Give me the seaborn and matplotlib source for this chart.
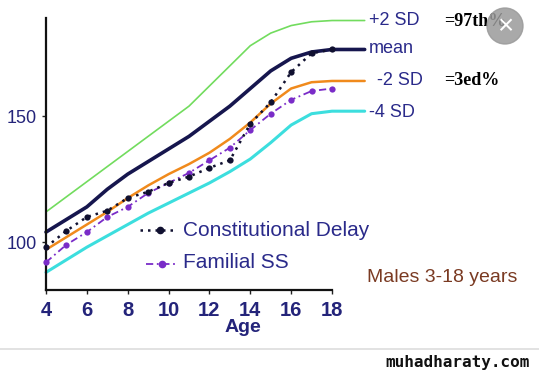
import numpy as np
import pandas as pd
import seaborn as sns
import matplotlib
matplotlib.use("Agg")
import matplotlib.pyplot as plt
from matplotlib.patches import Ellipse

# reference curves (height cm by age)
ages_ref = [4, 5, 6, 7, 8, 9, 10, 11, 12, 13, 14, 15, 16, 17, 18, 19.6]
plus2sd = [112, 118, 124, 130, 136, 142, 148, 154, 162, 170, 178, 183, 186, 187.5, 188, 188]
mean_sd = [104, 109, 114, 121, 127, 132, 137, 142, 148, 154, 161, 168, 173, 175.5, 176.5, 176.5]
minus2sd = [97, 102, 107, 112, 117.5, 122.5, 127, 131, 135.5, 141, 147.5, 155, 161, 163.5, 164, 164]
minus4sd = [88, 93, 98, 102.5, 107, 111.5, 115.5, 119.5, 123.5, 128, 133, 139.5, 146.5, 151, 152, 152]

# patient series
ages_pt = [4, 5, 6, 7, 8, 9, 10, 11, 12, 13, 14, 15, 16, 17, 18]
constitutional = [98, 104.5, 110, 112.5, 117.5, 120, 123.5, 126, 129.5, 132.5, 147, 155.5, 167.5, 175, 176.5]
familial = [92, 99, 104, 110, 114, 119.5, 123.5, 127.5, 132.5, 137.5, 144.5, 151, 156.5, 160, 161]

x_ticks = [4, 6, 8, 10, 12, 14, 16, 18]
y_ticks = [100, 150]

sns.set_style("ticks")
plt.rcParams['font.family'] = ['Liberation Sans', 'DejaVu Sans']

fig = plt.figure(figsize=(5.39, 3.73), dpi=100)
ax = fig.add_axes([46 / 539, 83 / 373, 286 / 539, 272 / 373])

ref = pd.DataFrame({'age': ages_ref, '+2 SD': plus2sd, 'mean': mean_sd,
                    '-2 SD': minus2sd, '-4 SD': minus4sd})
ref_styles = {'+2 SD': ('#72dc5e', 1.2), 'mean': ('#16164e', 2.6),
              '-2 SD': ('#f08a1c', 1.8), '-4 SD': ('#3cdede', 2.2)}
for col, (c, lw) in ref_styles.items():
    sns.lineplot(data=ref, x='age', y=col, color=c, linewidth=lw, ax=ax,
                 clip_on=False, zorder=2)

pts = pd.DataFrame({'age': ages_pt, 'cd': constitutional, 'fss': familial})
sns.lineplot(data=pts, x='age', y='fss', color='#7a2cc8', linestyle=(0, (4, 2, 1, 2)),
             linewidth=1.3, marker='o', markersize=4.5, markeredgewidth=0,
             ax=ax, clip_on=False, zorder=3)
sns.lineplot(data=pts, x='age', y='cd', color='#101030', linestyle=(0, (1, 2)),
             linewidth=1.8, marker='o', markersize=4.5, markeredgewidth=0,
             ax=ax, clip_on=False, zorder=4)

ax.set_xlim(4, 18)
ax.set_ylim(81, 189)
ax.set_xticks(x_ticks)
ax.set_yticks(y_ticks)
ax.tick_params(colors='#222', labelcolor='#24247a', labelsize=13, length=3, width=1)
ax.tick_params(axis='x', pad=5, labelsize=14.5)
for lab in ax.get_xticklabels():
    lab.set_fontweight('bold')
ax.set_xlabel('Age', fontsize=14, color='#24247a', fontweight='bold')
ax.xaxis.set_label_coords(0.69, -0.105)
ax.set_ylabel('')
for s in ['left', 'bottom']:
    ax.spines[s].set_linewidth(1.6)
    ax.spines[s].set_color('#111')
sns.despine(ax=ax)

# curve labels on the right
navy = '#2a2a8a'
ax.text(19.8, 188, '+2 SD', color=navy, fontsize=13, va='center', clip_on=False)
ax.text(19.8, 177, 'mean', color=navy, fontsize=13, va='center', clip_on=False)
ax.text(20.2, 164, '-2 SD', color=navy, fontsize=13, va='center', clip_on=False)
ax.text(19.8, 151.5, '-4 SD', color=navy, fontsize=13, va='center', clip_on=False)
ax.text(23.5, 187.5, '=97th%', color='black', fontsize=13, fontweight='bold',
        family='Liberation Serif', va='center', clip_on=False)
ax.text(23.5, 164, '=3ed%', color='black', fontsize=13, fontweight='bold',
        family='Liberation Serif', va='center', clip_on=False)

# legend drawn by hand like the slide
ax.plot([8.6, 10.3], [104.8, 104.8], color='#101030', linestyle=(0, (1, 2)), linewidth=1.8)
ax.plot([9.6], [104.8], 'o', color='#101030', markersize=4.5)
ax.plot([8.9, 10.3], [91.5, 91.5], color='#7a2cc8', linestyle=(0, (4, 2, 1, 2)), linewidth=1.3)
ax.plot([9.7], [91.5], 'o', color='#7a2cc8', markersize=4.5)
ax.text(10.7, 104.8, 'Constitutional Delay', color=navy, fontsize=15, va='center')
ax.text(10.7, 91.8, 'Familial SS', color=navy, fontsize=15, va='center')
ax.text(19.7, 86, 'Males 3-18 years', color='#7a3a22', fontsize=14, va='center',
        clip_on=False)

# page footer
fig.add_artist(plt.Line2D([0, 1], [1 - 349 / 373] * 2, color='#dddddd', linewidth=1.2))
fig.text(0.982, 1 - 363 / 373, 'muhadharaty.com', ha='right', va='center',
         fontsize=11.5, color='#111', fontweight='bold', family='DejaVu Sans Mono')
fig.add_artist(Ellipse((505 / 539, 1 - 26 / 373), 36 / 539, 36 / 373,
                       transform=fig.transFigure, color='#9a9a9a', alpha=0.85))
fig.text(505 / 539, 1 - 27 / 373, '×', ha='center', va='center', color='white',
         fontsize=20)

fig.savefig('out.png', dpi=100)
